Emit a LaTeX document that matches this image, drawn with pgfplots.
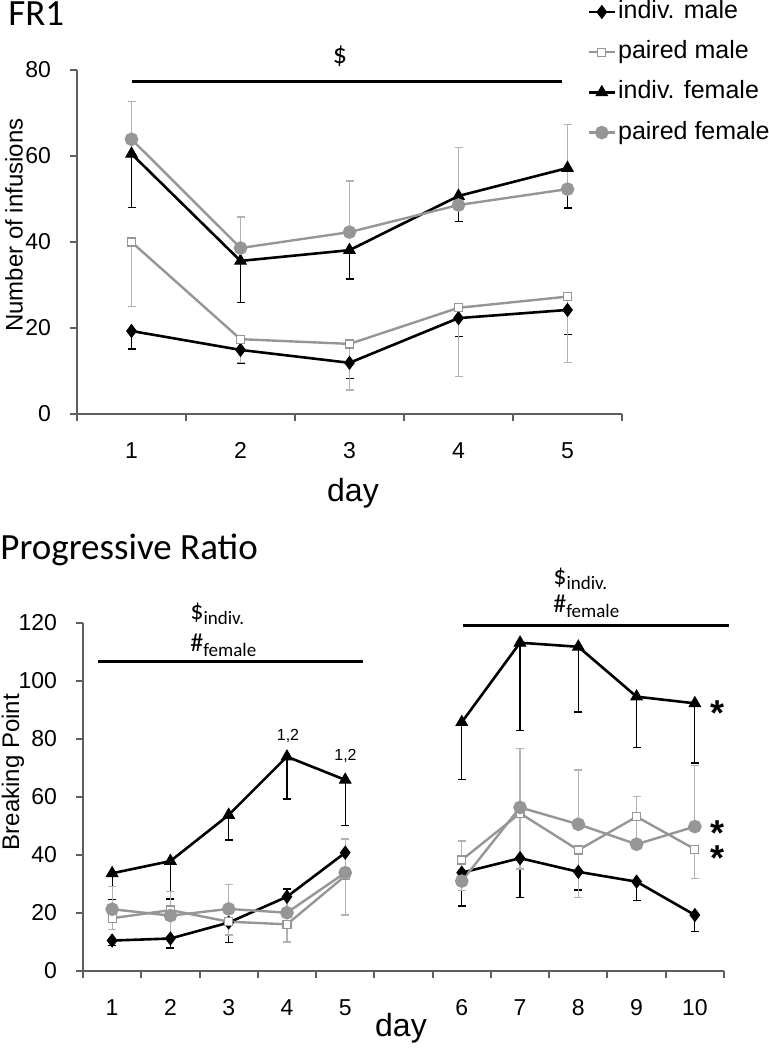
\documentclass[border=0pt]{standalone}
\usepackage{fontspec}
\setmainfont{Liberation Sans}
\newfontfamily\calib{Carlito}
\usepackage{pgfplots}
\usepackage{pgfplotstable}
\pgfplotsset{compat=1.18}
\definecolor{pgray}{RGB}{150,150,150}
\definecolor{egray}{RGB}{178,178,178}
\definecolor{axgray}{RGB}{95,95,95}

% ---------- FR1 data: x y plus minus ----------
\pgfplotstableread{
x y ep em
1 19.3 0 4.2
2 14.9 0 3.2
3 11.9 0 3.7
4 22.3 0 4.2
5 24.2 0 5.8
}\tIM
\pgfplotstableread{
x y ep em
1 40.0 0 15.0
2 17.4 0 5.4
3 16.3 0 10.7
4 24.7 0 15.9
5 27.3 0 15.4
}\tPM
\pgfplotstableread{
x y ep em
1 60.5 0 12.4
2 35.6 0 9.6
3 38.1 0 6.7
4 50.7 0 6.0
5 57.2 0 9.3
}\tIF
\pgfplotstableread{
x y ep em
1 63.9 8.7 0
2 38.6 7.2 0
3 42.3 11.9 0
4 48.6 13.3 0
5 52.3 15.1 0
}\tPF

% ---------- Progressive ratio data ----------
\pgfplotstableread{
x y ep em
1 10.5 0 1.8
2 11.2 0 3.3
3 16.7 0 6.9
4 25.6 2.7 0
5 40.8 0 8.8
}\bIMa
\pgfplotstableread{
x y ep em
7 33.9 0 11.5
8 38.9 0 13.6
9 34.2 0 6.3
10 30.8 0 6.6
11 19.3 0 5.7
}\bIMb
\pgfplotstableread{
x y ep em
1 18.2 0 4.0
2 21.0 0 9.0
3 17.0 0 4.6
4 16.1 0 6.1
5 32.8 0 13.5
}\bPMa
\pgfplotstableread{
x y ep em
7 38.3 0 10.6
8 54.4 0 19.2
9 41.7 0 16.4
10 53.2 0 10.0
11 42.0 0 10.0
}\bPMb
\pgfplotstableread{
x y ep em
1 33.7 0 9.0
2 37.9 0 13.1
3 53.8 0 8.6
4 73.9 0 14.6
5 65.9 0 15.8
}\bIFa
\pgfplotstableread{
x y ep em
7 85.8 0 19.9
8 113.2 0 30.3
9 111.8 0 22.5
10 94.6 0 17.4
11 92.3 0 20.6
}\bIFb
\pgfplotstableread{
x y ep em
1 21.3 7.7 0
2 19.1 8.2 0
3 21.4 8.5 0
4 20.1 5.1 0
5 33.9 11.6 0
}\bPFa
\pgfplotstableread{
x y ep em
7 31.0 13.8 0
8 56.4 20.2 0
9 50.6 18.7 0
10 43.7 16.6 0
11 49.8 21.0 0
}\bPFb

\pgfplotsset{
  myax/.style={
    scale only axis, axis lines*=left,
    axis line style={axgray, line width=1pt},
    tick style={axgray, line width=1pt}, tick align=outside,
    major tick length=3.5pt, minor tick length=3.5pt,
    every major x tick/.append style={draw=none},
    ticklabel style={font=\fontsize{11.5}{13}\selectfont},
    yticklabel style={xshift=-6pt},
    xticklabel style={anchor=north, text height=8.5pt, text depth=0pt, yshift=-6.5pt},
    /pgf/number format/assume math mode=true,
    clip=false,
  },
  im/.style={black, line width=1.3pt, mark=diamond*, mark size=3.2pt,
    mark options={solid, fill=black, line width=0.5pt},
    error bars/y explicit,
    error bars/error bar style={black, line width=0.6pt},
    error bars/error mark options={rotate=90, mark size=2pt, black, line width=0.6pt}},
  pm/.style={pgray, line width=1.2pt, mark=square*, mark size=2pt,
    mark options={solid, fill=white, draw=pgray, line width=0.6pt},
    error bars/y explicit,
    error bars/error bar style={egray, line width=0.6pt},
    error bars/error mark options={rotate=90, mark size=2pt, egray, line width=0.6pt}},
  if/.style={black, line width=1.3pt, mark=triangle*, mark size=3.3pt,
    mark options={solid, fill=black, line width=0.5pt},
    error bars/y explicit,
    error bars/error bar style={black, line width=0.6pt},
    error bars/error mark options={rotate=90, mark size=2pt, black, line width=0.6pt}},
  pf/.style={pgray, line width=1.2pt, mark=*, mark size=2.8pt,
    mark options={solid, fill=pgray, draw=pgray},
    error bars/y explicit,
    error bars/error bar style={egray, line width=0.6pt},
    error bars/error mark options={rotate=90, mark size=2pt, egray, line width=0.6pt}},
}

\begin{document}
\begin{tikzpicture}
\path[use as bounding box] (0,0) rectangle (384pt,525pt);

% ================= FR1 =================
\begin{axis}[myax,
  at={(38.5pt,318pt)}, anchor=south west,
  width=272.5pt, height=172pt,
  xmin=0.5, xmax=5.5, ymin=0, ymax=80,
  xtick={1,2,3,4,5},
  minor xtick={0.5,1.5,2.5,3.5,4.5,5.5},
  ytick={0,20,40,60,80},
  legend style={at={(0.936,1.209)}, anchor=north west, draw=none, fill=none,
    inner sep=0pt, font=\fontsize{12.5}{14}\selectfont,
    nodes={inner sep=1pt, text height=9pt, text depth=2.5pt},
    row sep=6.6pt, column sep=0pt},
  legend cell align=left,
  legend image code/.code={\draw[mark repeat=2,mark phase=2,#1] plot coordinates {(0pt,0pt) (6.5pt,0pt) (13pt,0pt)};},
]
\addplot[im, error bars/y dir=minus] table[x=x,y=y,y error plus=ep,y error minus=em] {\tIM};
\addlegendentry{indiv. male}
\addplot[pm, error bars/y dir=minus] table[x=x,y=y,y error plus=ep,y error minus=em] {\tPM};
\addlegendentry{paired male}
\addplot[if, error bars/y dir=minus] table[x=x,y=y,y error plus=ep,y error minus=em] {\tIF};
\addlegendentry{indiv. female}
\addplot[pf, error bars/y dir=plus] table[x=x,y=y,y error plus=ep,y error minus=em] {\tPF};
\addlegendentry{paired female}
\draw[black, line width=1.4pt] (axis cs:1,77.4) -- (axis cs:4.95,77.4);
\end{axis}

% ================= Progressive Ratio =================
\begin{axis}[myax,
  at={(41.5pt,39.5pt)}, anchor=south west,
  width=320.5pt, height=174pt,
  xmin=0.5, xmax=11.5, ymin=0, ymax=120,
  xtick={1,2,3,4,5,7,8,9,10,11},
  xticklabels={1,2,3,4,5,6,7,8,9,10},
  minor xtick={0.5,1.5,...,11.5},
  ytick={0,20,40,60,80,100,120},
]
\addplot[im, error bars/y dir=both] table[x=x,y=y,y error plus=ep,y error minus=em] {\bIMa};
\addplot[im, error bars/y dir=minus] table[x=x,y=y,y error plus=ep,y error minus=em] {\bIMb};
\addplot[pm, error bars/y dir=minus] table[x=x,y=y,y error plus=ep,y error minus=em] {\bPMa};
\addplot[pm, error bars/y dir=minus] table[x=x,y=y,y error plus=ep,y error minus=em] {\bPMb};
\addplot[if, error bars/y dir=minus] table[x=x,y=y,y error plus=ep,y error minus=em] {\bIFa};
\addplot[if, error bars/y dir=minus] table[x=x,y=y,y error plus=ep,y error minus=em] {\bIFb};
\addplot[pf, error bars/y dir=plus] table[x=x,y=y,y error plus=ep,y error minus=em] {\bPFa};
\addplot[pf, error bars/y dir=plus] table[x=x,y=y,y error plus=ep,y error minus=em] {\bPFb};
\draw[black, line width=1.4pt] (axis cs:0.757,106.6) -- (axis cs:5.305,106.6);
\draw[black, line width=1.4pt] (axis cs:7.02,119) -- (axis cs:11.59,119);
\end{axis}

% ================= text =================
\node[anchor=base west, inner sep=0pt] at (4pt,512pt) {\calib\fontsize{18.5}{20}\selectfont FR1};
\node[anchor=base west, inner sep=0pt] at (0pt,245pt) {\calib\fontsize{18.5}{20}\selectfont Progressive Ratio};
\node[inner sep=0pt] at (170pt,497pt) {\calib\fontsize{14}{16}\selectfont \$};
\node[rotate=90, inner sep=0pt] at (7pt,412.5pt) {\fontsize{12}{14}\selectfont Number of infusions};
\node[rotate=90, inner sep=0pt] at (6.5pt,139pt) {\fontsize{12}{14}\selectfont Breaking Point};
\node[anchor=base, inner sep=0pt] at (176.5pt,274pt) {\fontsize{16}{18}\selectfont day};
\node[anchor=base, inner sep=0pt] at (200.5pt,6.5pt) {\fontsize{16}{18}\selectfont day};
% significance labels
\node[anchor=base west, inner sep=0pt] at (95pt,215pt) {\calib\fontsize{13}{14}\selectfont \$\raisebox{-2.5pt}{\fontsize{9.5}{10}\selectfont indiv.}};
\node[anchor=base west, inner sep=0pt] at (95pt,199pt) {\calib\fontsize{13}{14}\selectfont \#\raisebox{-2.5pt}{\fontsize{9.5}{10}\selectfont female}};
\node[anchor=base west, inner sep=0pt] at (276.5pt,232.5pt) {\calib\fontsize{13}{14}\selectfont \$\raisebox{-2.5pt}{\fontsize{9.5}{10}\selectfont indiv.}};
\node[anchor=base west, inner sep=0pt] at (276.5pt,218.5pt) {\calib\fontsize{13}{14}\selectfont \#\raisebox{-2.5pt}{\fontsize{9.5}{10}\selectfont female}};
\node[inner sep=0pt] at (144pt,157pt) {\fontsize{8}{9}\selectfont 1,2};
\node[inner sep=0pt] at (172.75pt,147pt) {\fontsize{8}{9}\selectfont 1,2};
\node[anchor=base, inner sep=0pt, text height=7pt, text depth=0pt] at (358.5pt,162pt) {\bfseries\fontsize{18}{20}\selectfont *};
\node[anchor=base, inner sep=0pt, text height=7pt, text depth=0pt] at (358.5pt,102pt) {\bfseries\fontsize{18}{20}\selectfont *};
\node[anchor=base, inner sep=0pt, text height=7pt, text depth=0pt] at (358.5pt,89.5pt) {\bfseries\fontsize{18}{20}\selectfont *};
\end{tikzpicture}
\end{document}
